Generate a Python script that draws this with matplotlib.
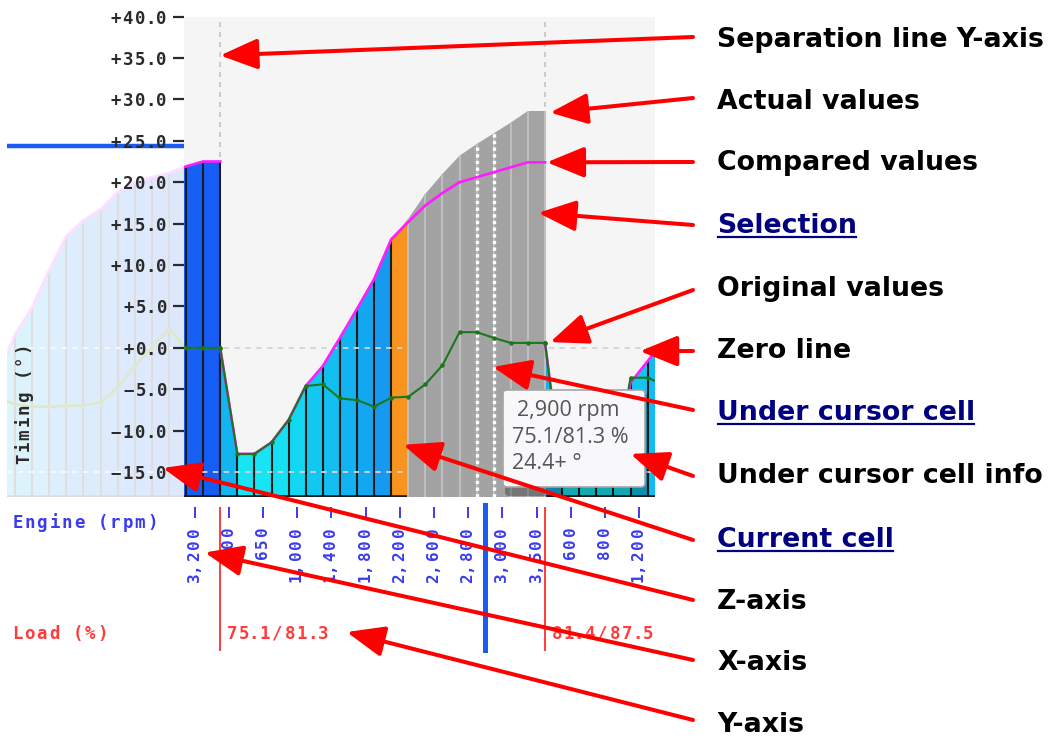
import matplotlib
matplotlib.use('Agg')
import matplotlib.pyplot as plt
from matplotlib.colors import LinearSegmentedColormap, Normalize
from matplotlib.patches import FancyBboxPatch, Rectangle
from matplotlib.transforms import blended_transform_factory

plt.rcParams['mathtext.fontset'] = 'custom'
plt.rcParams['mathtext.tt'] = 'DejaVu Sans Mono'
plt.rcParams['mathtext.bf'] = 'DejaVu Sans Mono:bold'

# ---- table data: flattened load rows, one point per cell edge ----
# row A = previous load row (faded part on the left), B = 75.1/81.3, C = 81.4/87.5
row_a_x = list(range(-11, 3))
row_a_actual = [-3.5, 1.6, 4.9, 9.4, 13.5, 15.4, 16.7, 18.8, 20.0, 20.6, 21.1, 21.9, 22.5, 22.5]
row_a_compared = [-3.5, 1.6, 4.9, 9.4, 13.5, 15.4, 16.7, 18.8, 20.0, 20.6, 21.1, 21.9, 22.5, 22.5]
row_a_original = [-6.0, -6.8, -7.1, -7.1, -7.0, -6.9, -6.6, -4.8, -2.2, 0.1, 2.3, 0.0, 0.0, 0.0]

row_b_x = list(range(2, 22))
row_b_actual = [0.0, -12.8, -12.8, -11.4, -8.7, -4.6, -2.2, 1.2, 4.7, 8.3,
                13.1, 15.6, 18.6, 21.0, 23.2, 24.6, 25.9, 27.2, 28.6, 28.6]
row_b_compared = [0.0, -12.8, -12.8, -11.4, -8.7, -4.6, -2.2, 1.2, 4.7, 8.3,
                  13.1, 15.2, 17.2, 18.7, 20.0, 20.6, 21.2, 21.8, 22.4, 22.4]
row_b_original = [0.0, -12.8, -12.8, -11.4, -8.7, -4.6, -4.4, -6.1, -6.3, -7.1,
                  -6.0, -5.9, -4.4, -2.1, 1.9, 1.9, 1.2, 0.6, 0.6, 0.6]

row_c_x = list(range(21, 29))
row_c_actual = [0.6, -15.5, -15.5, -15.0, -14.5, -4.2, -1.6, 1.1]
row_c_compared = [0.6, -15.5, -15.5, -15.0, -14.5, -4.2, -1.6, 1.1]
row_c_original = [0.6, -16.0, -16.0, -15.5, -15.0, -3.6, -3.6, -4.5]

rpm_tick_cells = [0, 2, 4, 6, 8, 10, 12, 14, 16, 18, 20, 22, 24, 26]
rpm_tick_labels = ['3,200', '500', '650', '1,000', '1,400', '1,800', '2,200',
                   '2,600', '2,800', '3,000', '3,500', '600', '800', '1,200']
load_labels = ['75.1/81.3', '81.4/87.5']
load_starts = [2, 21]
selection_cells = list(range(13, 21))
current_cell = 12
cursor_cell = 17
cursor_value = 24.4
tooltip_lines = ['2,900 rpm', '75.1/81.3 %', '24.4+ °']
y_ticks = list(range(-15, 45, 5))

rows = [(row_a_x, row_a_actual, row_a_compared, row_a_original),
        (row_b_x, row_b_actual, row_b_compared, row_b_original),
        (row_c_x, row_c_actual, row_c_compared, row_c_original)]


def spaced(s, font='bf', gap=0.12):
    # letter-spaced monospace text, like the app's axis font
    out = ''
    for i, c in enumerate(s):
        if c == ' ':
            out += r'\enspace'
        elif c == '%':
            out += r'\%'
        else:
            out += c
        if i < len(s) - 1 and c not in '.,' and s[i + 1] not in '.,':
            out += r'\hspace{%g}' % gap
    return r'$\math%s{%s}$' % (font, out)


cmap = LinearSegmentedColormap.from_list('timing', [
    (0.0, '#1ceaf6'), (0.055, '#18e4f4'), (0.15, '#12d8f2'), (0.26, '#12c8f0'),
    (0.375, '#13b5f0'), (0.49, '#12a8f0'), (0.58, '#189af0'), (0.70, '#1a88f2'),
    (0.925, '#1660f5'), (1.0, '#1452f5')])
norm = Normalize(-15, 25)

W, H = 1049, 740
fig = plt.figure(figsize=(W / 100, H / 100), dpi=100)
fig.patch.set_facecolor('white')
ax = fig.add_axes([7 / W, 243 / H, 648 / W, 480.5 / H])
x_left, x_right = -10.47, 27.43
y_bot, y_top = -18.0, 39.9
fade_edge = -0.1
ax.set_xlim(x_left, x_right)
ax.set_ylim(y_bot, y_top)
ax.set_facecolor('white')
ax.axvspan(fade_edge, x_right, color='#f5f5f5', lw=0, zorder=0)

# separation lines between load rows
ax.vlines(load_starts, y_bot, y_top, colors='#c4c4c4', linestyles=(0, (3, 3)), lw=1.2, zorder=0.5)

dark = '#1c1c1c'
for xs, act, comp, orig in rows:
    for i in range(len(xs) - 1):
        cell = xs[i]
        z = 1
        if cell in selection_cells:
            fc, z = '#a3a3a3', 2.2
        elif cell == current_cell:
            fc = '#f7931e'
        else:
            fc = cmap(norm(act[i]))
        ax.fill([xs[i], xs[i], xs[i + 1], xs[i + 1]], [y_bot, act[i], act[i + 1], y_bot],
                color=fc, lw=0, zorder=z)
        if cell not in selection_cells:
            ax.plot([xs[i], xs[i + 1]], [y_bot, y_bot], color=dark, lw=2.6, zorder=1.3)
    for i, xv in enumerate(xs):
        near = []
        if i > 0:
            near.append(xs[i - 1])
        if i < len(xs) - 1:
            near.append(xv)
        light = any(c in selection_cells for c in near)
        ax.vlines(xv, y_bot, act[i], colors='#bebebe' if light else dark,
                  lw=1.5, zorder=2.3 if light else 1.2)
    ax.plot(xs, comp, color='#ff1cff', lw=1.9, zorder=3, solid_joinstyle='round')
    ax.plot(xs, orig, color='#1d761d', lw=1.5, marker='o', ms=2.2, zorder=3.5)

# zero / min grid lines
for yv in (0, -15):
    ax.axhline(yv, color='#d4d4d4', lw=1.3, ls=(0, (3, 3)), zorder=2)

# cursor cell borders
cur_x = [cursor_cell, cursor_cell + 1]
cur_top = [row_b_actual[row_b_x.index(v)] for v in cur_x]
ax.vlines(cur_x, y_bot, cur_top, colors='white', lw=2.4, linestyles=(0, (1, 1)), zorder=2.6)

# faded previous area and cursor value marker
ax.add_patch(Rectangle((x_left, y_bot), fade_edge - x_left, y_top - y_bot,
                       fc='white', alpha=0.86, lw=0, zorder=4))
# faint original curve of the faded row stays a little visible
faint, = ax.plot(row_a_x, row_a_original, color='#dfe8c8', lw=1.8, zorder=4.5)
faint.set_clip_path(Rectangle((x_left, y_bot), fade_edge - x_left, y_top - y_bot,
                              transform=ax.transData))
ax.hlines(cursor_value, x_left, fade_edge, color='#1a5cf0', lw=3.2, zorder=5)

for s in ax.spines.values():
    s.set_visible(False)
ax.spines['left'].set_position(('data', fade_edge))
ax.spines['bottom'].set_position(('outward', 7.5))
ax.set_yticks(y_ticks)
ax.set_yticklabels([spaced(f'{v:+.1f}') for v in y_ticks], fontsize=12.5, color='#2a2a2a')
ax.tick_params(axis='y', length=8, width=1.6, color='#2a2a2a', pad=4)
ax.set_xticks([c + 0.5 for c in rpm_tick_cells])
ax.set_xticklabels([spaced(s) for s in rpm_tick_labels], rotation=90, fontsize=11.5,
                   color='#3b3bf0')
ax.tick_params(axis='x', length=8, width=1.4, color='#3b3bf0', pad=6.5)
ax.xaxis.set_zorder(6)
ax.yaxis.set_zorder(6)
ax.set_ylabel(spaced('Timing (°)'), fontsize=12.5, color='#2a2a2a')
ax.yaxis.set_label_coords(29 / 648, 92 / 480.5)

# overlay in figure pixels (y down) for labels, tooltip and callouts
ov = fig.add_axes([0, 0, 1, 1], zorder=10)
ov.set_xlim(0, W)
ov.set_ylim(H, 0)
ov.axis('off')
ov.patch.set_alpha(0)

bt = blended_transform_factory(ax.transData, ov.transData)
ov.text(12, 522, spaced('Engine (rpm)'), fontsize=12.5, color='#3b3bf0', va='center')
ov.text(12, 633, spaced('Load (%)'), fontsize=12.5, color='#ff3c3c', va='center')
clip = Rectangle((0, 0), 655, H, transform=ov.transData)
for lab, st in zip(load_labels, load_starts):
    ax.plot([st, st], [508, 650], transform=bt, color='#ff3b3b', lw=1.4, clip_on=False, zorder=7)
    t = ov.text(st + 0.33, 633, spaced(lab), transform=bt, fontsize=12.5,
                color='#ff3c3c', va='center')
    t.set_clip_path(clip)
ax.plot([cursor_cell + 0.5] * 2, [505, 650], transform=bt, color='#1a5cf0', lw=3.6,
        clip_on=False, zorder=7)

# tooltip
ov.add_patch(FancyBboxPatch((505, 393), 143, 103, boxstyle='round,pad=0,rounding_size=4',
                            fc='black', alpha=0.28, lw=0, zorder=1))
ov.add_patch(FancyBboxPatch((503, 390), 142, 97, boxstyle='round,pad=0,rounding_size=4',
                            fc='#f8f8fb', ec='#a6a6a6', lw=1.2, zorder=2))
for line, tx, ty in zip(tooltip_lines, [517, 512, 512], [416, 443, 469]):
    ov.text(tx, ty, line, fontsize=15.5, family='Open Sans', color='#555555',
            va='baseline', zorder=3)

# callouts: label, text baseline, arrow tail y, arrow tip (data coords), link
callouts = [
    ('Separation line Y-axis', 47, 37, (load_starts[0], 35.3), False),
    ('Actual values', 109, 98, (21.3, 28.4), False),
    ('Compared values', 170, 162, (21.1, 22.4), False),
    ('Selection', 233, 225, (20.6, 16.3), True),
    ('Original values', 296, 290, (21.3, 0.7), False),
    ('Zero line', 358, 351, (26.55, -0.4), False),
    ('Under cursor cell', 420, 410, (17.95, -2.3), True),
    ('Under cursor cell info', 483, 476, (26.0, -12.8), False),
    ('Current cell', 547, 540, (12.7, -11.7), True),
    ('Z-axis', 609, 600, (-1.35, -14.5), False),
    ('X-axis', 670, 660, (1.1, -24.7), False),
    ('Y-axis', 732, 720, (9.4, -34.3), False),
]
renderer = fig.canvas.get_renderer()
for label, base, tail, tip, link in callouts:
    col = '#000080' if link else 'black'
    t = ov.text(717, base, label, fontsize=19.3, fontweight='bold', color=col,
                va='baseline', zorder=5)
    if link:
        bb = t.get_window_extent(renderer)
        ov.plot([bb.x0 + 1, bb.x1 - 1], [base + 4, base + 4], color=col, lw=1.6, zorder=5)
    ov.annotate('', xy=tip, xycoords=ax.transData, xytext=(693, tail), textcoords=ov.transData,
                arrowprops=dict(arrowstyle='-|>,head_length=1.15,head_width=0.47',
                                mutation_scale=20, lw=2.9, color='#ff0000',
                                shrinkA=0, shrinkB=0),
                annotation_clip=False, zorder=6)

fig.savefig('out.png', dpi=100)
